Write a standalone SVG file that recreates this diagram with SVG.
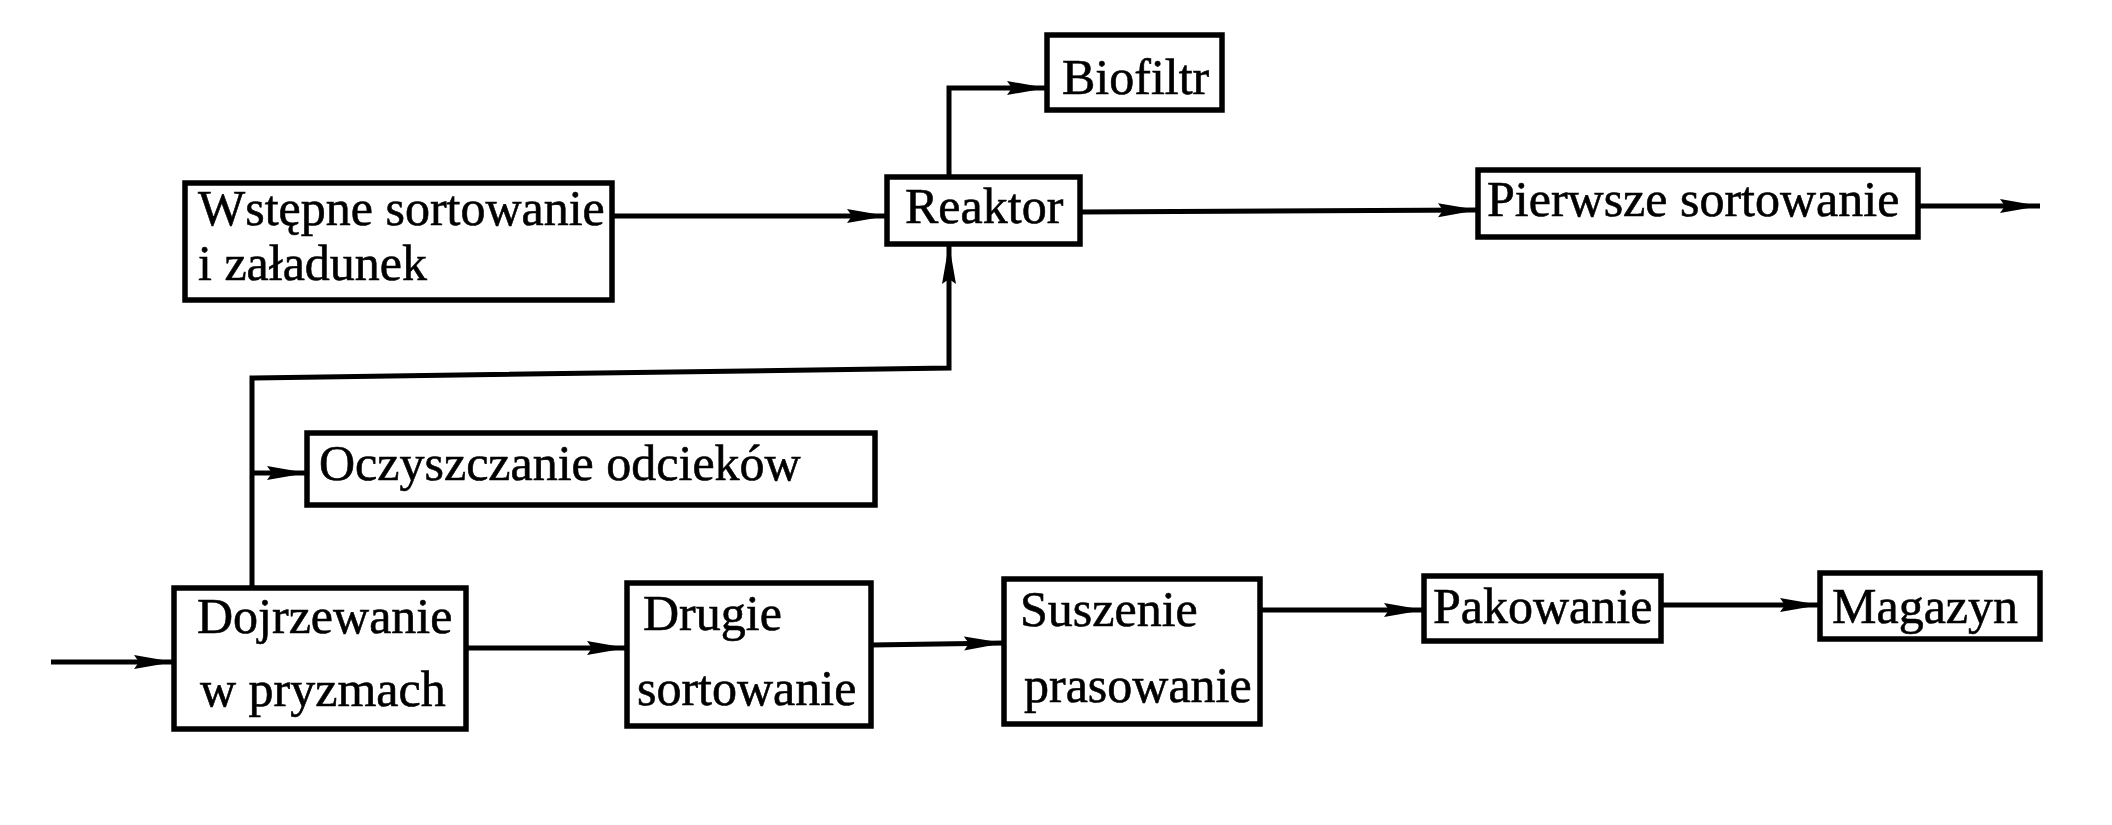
<svg xmlns="http://www.w3.org/2000/svg" width="2112" height="825" viewBox="0 0 2112 825">
<style>
.box{fill:#fff;stroke:#000;stroke-width:5.5}
.lbl{font-family:"Liberation Serif","Times New Roman",serif;font-size:50px;fill:#000;stroke:#000;stroke-width:0.6}
.ln{fill:none;stroke:#000;stroke-width:5}
</style>
<defs>
<marker id="ah" viewBox="0 0 40 16" refX="40" refY="8" markerWidth="40" markerHeight="16" markerUnits="userSpaceOnUse" orient="auto">
<path d="M0,1 L40,8 L0,15 L5,8 z" fill="#000"/>
</marker>
</defs>
<rect width="2112" height="825" fill="#fff"/>
<g id="connectors">
<path class="ln" d="M612,216 H887" marker-end="url(#ah)"/>
<path class="ln" d="M949,177 V88 H1047" marker-end="url(#ah)"/>
<path class="ln" d="M1080,212 L1478,210" marker-end="url(#ah)"/>
<path class="ln" d="M1918,206 H2040" marker-end="url(#ah)"/>
<path class="ln" d="M252,588 V378 L949,368 V244" marker-end="url(#ah)"/>
<path class="ln" d="M252,473 H307" marker-end="url(#ah)"/>
<path class="ln" d="M51,662 H174" marker-end="url(#ah)"/>
<path class="ln" d="M466,648 H627" marker-end="url(#ah)"/>
<path class="ln" d="M871,645 L1004,643" marker-end="url(#ah)"/>
<path class="ln" d="M1260,610 H1424" marker-end="url(#ah)"/>
<path class="ln" d="M1661,605 H1820" marker-end="url(#ah)"/>
</g>
<g id="wstepne">
<rect class="box" x="185" y="183" width="427" height="117"/>
<text class="lbl" x="198" y="225">Wstępne sortowanie</text>
<text class="lbl" x="198" y="280">i załadunek</text>
</g>
<g id="reaktor">
<rect class="box" x="887" y="177" width="193" height="67"/>
<text class="lbl" x="905" y="223">Reaktor</text>
</g>
<g id="biofiltr">
<rect class="box" x="1047" y="35" width="175" height="75"/>
<text class="lbl" x="1062" y="94">Biofiltr</text>
</g>
<g id="pierwsze">
<rect class="box" x="1478" y="170" width="440" height="67"/>
<text class="lbl" x="1487" y="216">Pierwsze sortowanie</text>
</g>
<g id="oczyszczanie">
<rect class="box" x="307" y="433" width="568" height="72"/>
<text class="lbl" x="319" y="480">Oczyszczanie odcieków</text>
</g>
<g id="dojrzewanie">
<rect class="box" x="174" y="588" width="292" height="141"/>
<text class="lbl" x="197" y="633">Dojrzewanie</text>
<text class="lbl" x="200" y="706">w pryzmach</text>
</g>
<g id="drugie">
<rect class="box" x="627" y="583" width="244" height="143"/>
<text class="lbl" x="643" y="630">Drugie</text>
<text class="lbl" x="637" y="705">sortowanie</text>
</g>
<g id="suszenie">
<rect class="box" x="1004" y="579" width="256" height="145"/>
<text class="lbl" x="1020" y="626">Suszenie</text>
<text class="lbl" x="1024" y="702">prasowanie</text>
</g>
<g id="pakowanie">
<rect class="box" x="1424" y="576" width="237" height="65"/>
<text class="lbl" x="1433" y="623">Pakowanie</text>
</g>
<g id="magazyn">
<rect class="box" x="1820" y="573" width="220" height="66"/>
<text class="lbl" x="1832" y="623">Magazyn</text>
</g>
</svg>
